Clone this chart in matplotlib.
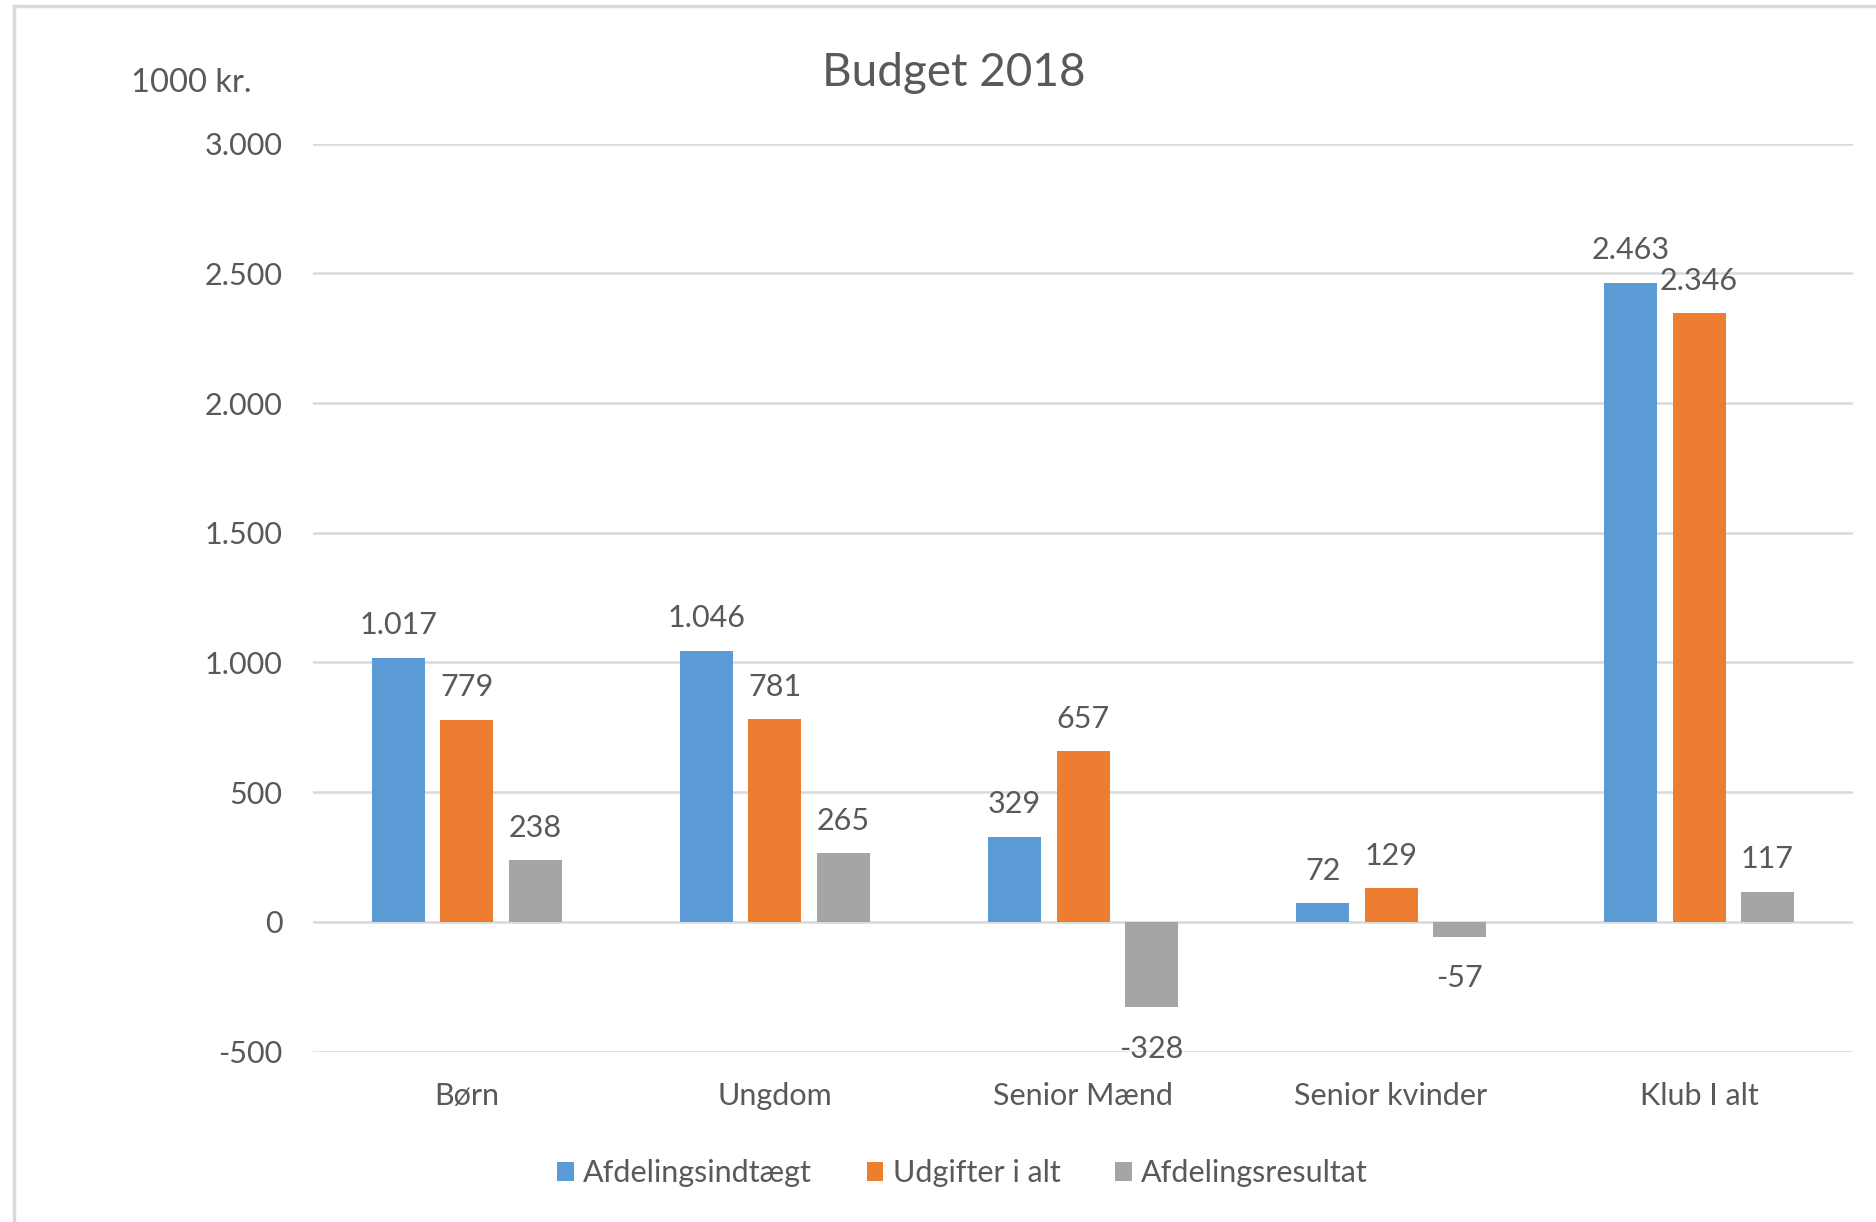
import matplotlib
matplotlib.use("Agg")
import matplotlib.pyplot as plt
from matplotlib.lines import Line2D
import numpy as np

plt.rcParams['font.family'] = ['Lato', 'DejaVu Sans']

categories = ["Børn", "Ungdom", "Senior Mænd", "Senior kvinder", "Klub I alt"]
series_names = ["Afdelingsindtægt", "Udgifter i alt", "Afdelingsresultat"]
indtaegt = [1017, 1046, 329, 72, 2463]
udgifter = [779, 781, 657, 129, 2346]
resultat = [238, 265, -328, -57, 117]
yticks = [-500, 0, 500, 1000, 1500, 2000, 2500, 3000]

colors = ["#5B9BD5", "#ED7D31", "#A5A5A5"]
text_color = "#595959"
grid_color = "#D9D9D9"

def fmt(v):
    return f"{v:,}".replace(",", ".")

fig = plt.figure(figsize=(18.76, 12.22), dpi=100)
ax = fig.add_axes([0.1668, 0.1394, 0.821, 0.7431])

x = np.arange(len(categories))
width = 0.172
step = 0.222
all_series = [indtaegt, udgifter, resultat]
for i, (vals, c, name) in enumerate(zip(all_series, colors, series_names)):
    pos = x + (i - 1) * step
    ax.bar(pos, vals, width=width, color=c, label=name, zorder=3)
    for xp, v in zip(pos, vals):
        off = 23.5 if v >= 0 else -30
        ax.annotate(fmt(v), xy=(xp, v), xytext=(0, off), textcoords="offset points",
                    ha="center", va="center", fontsize=22, color=text_color, zorder=4)

ax.set_xlim(-0.5, len(categories) - 0.5)
ax.set_ylim(-500, 3000)
ax.set_yticks(yticks)
ax.set_yticklabels([fmt(t) for t in yticks])
ax.set_xticks(x)
ax.set_xticklabels(categories)
ax.tick_params(axis="both", length=0, labelsize=22, labelcolor=text_color)
ax.tick_params(axis="y", pad=22)
ax.tick_params(axis="x", pad=22)
ax.yaxis.grid(True, color=grid_color, linewidth=1.8, zorder=0)
ax.set_axisbelow(True)
for s in ax.spines.values():
    s.set_visible(False)

fig.text(0.5085, 0.940, "Budget 2018", ha="center", va="center", fontsize=33, color=text_color)
fig.text(0.0698, 0.932, "1000 kr.", ha="left", va="center", fontsize=23.5, color=text_color)

leg = ax.legend(loc="center", bbox_to_anchor=(0.513, 0.040), bbox_transform=fig.transFigure,
                ncol=3, frameon=False, fontsize=22, handlelength=0.55, handleheight=0.55,
                handletextpad=0.3, columnspacing=1.8)
for t in leg.get_texts():
    t.set_color(text_color)

# outer chart border (partly cropped in reference)
fig.add_artist(Line2D([14 / 1876, 14 / 1876], [0, 1 - 6 / 1222], transform=fig.transFigure,
                      color=grid_color, linewidth=2.5))
fig.add_artist(Line2D([14 / 1876, 1], [1 - 6 / 1222, 1 - 6 / 1222], transform=fig.transFigure,
                      color=grid_color, linewidth=2.5))

fig.savefig("out.png", dpi=100, facecolor="white")
